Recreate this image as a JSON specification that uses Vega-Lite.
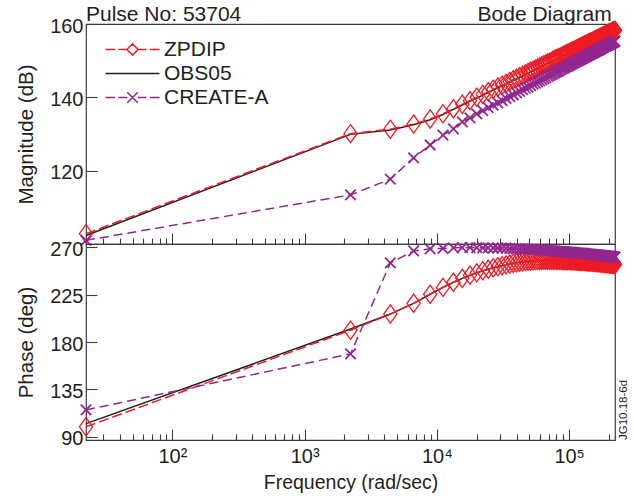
{
"$schema": "https://vega.github.io/schema/vega-lite/v6.json",
"padding": {"left": 16, "top": 3, "right": 0, "bottom": 0},
"title": {"text": "Bode Diagram", "anchor": "end", "frame": "bounds", "fontSize": 21, "fontWeight": "normal", "font": "Liberation Sans", "color": "#231f20", "offset": -22, "dx": -18},
"spacing": 0,
"bounds": "flush",
"datasets": {
"leg": [{"s": "ZPDIP"}, {"s": "OBS05"}, {"s": "CREATE-A"}],
"bode": [
{"f":22.2,"zm":102.8,"om":102.3,"cm":101.0,"zp":99.5,"op":102.5,"cp":115.5},
{"f":2222,"zm":130.1,"om":129.9,"cm":113.4,"zp":191.2,"op":192.3,"cp":168.7},
{"f":4444,"zm":131.3,"om":131.1,"cm":117.7,"zp":206.5,"op":206.5,"cp":255.0},
{"f":6667,"zm":132.7,"om":132.5,"cm":123.5,"zp":216.7,"op":216.7,"cp":266.4},
{"f":8889,"zm":134.1,"om":133.9,"cm":127.0,"zp":225.3,"op":225.3,"cp":268.4},
{"f":11111,"zm":135.5,"om":135.3,"cm":129.7,"zp":231.8,"op":231.8,"cp":268.8},
{"f":13333,"zm":136.9,"om":136.7,"cm":131.4,"zp":236.7,"op":236.7,"cp":269.4},
{"f":15556,"zm":138.1,"om":137.9,"cm":133.3,"zp":240.4,"op":240.4,"cp":269.5},
{"f":17778,"zm":139.1,"om":138.9,"cm":134.4,"zp":243.3,"op":243.3,"cp":269.5},
{"f":20000,"zm":140.0,"om":139.8,"cm":135.5,"zp":245.6,"op":245.6,"cp":269.5},
{"f":22222,"zm":140.8,"om":140.6,"cm":136.4,"zp":247.6,"op":247.6,"cp":269.4},
{"f":24444,"zm":141.5,"om":141.3,"cm":137.2,"zp":249.1,"op":249.1,"cp":269.3},
{"f":26667,"zm":142.2,"om":142.0,"cm":137.9,"zp":250.4,"op":250.4,"cp":269.2},
{"f":28889,"zm":142.8,"om":142.6,"cm":138.5,"zp":251.5,"op":251.5,"cp":269.2},
{"f":31111,"zm":143.3,"om":143.1,"cm":139.1,"zp":252.4,"op":252.4,"cp":269.1},
{"f":33333,"zm":143.8,"om":143.6,"cm":139.7,"zp":253.2,"op":253.2,"cp":269.0},
{"f":35556,"zm":144.3,"om":144.1,"cm":140.2,"zp":254.1,"op":254.1,"cp":268.8},
{"f":37778,"zm":144.8,"om":144.6,"cm":140.7,"zp":254.7,"op":254.7,"cp":268.7},
{"f":40000,"zm":145.2,"om":145.0,"cm":141.2,"zp":255.2,"op":255.2,"cp":268.6},
{"f":42222,"zm":145.6,"om":145.4,"cm":141.6,"zp":255.6,"op":255.6,"cp":268.4},
{"f":44444,"zm":146.0,"om":145.8,"cm":142.1,"zp":256.0,"op":256.0,"cp":268.3},
{"f":46667,"zm":146.4,"om":146.2,"cm":142.5,"zp":256.3,"op":256.3,"cp":268.2},
{"f":48889,"zm":146.8,"om":146.6,"cm":142.8,"zp":256.6,"op":256.6,"cp":268.1},
{"f":51111,"zm":147.1,"om":146.9,"cm":143.2,"zp":256.8,"op":256.8,"cp":268.0},
{"f":53333,"zm":147.4,"om":147.2,"cm":143.6,"zp":257.0,"op":257.0,"cp":267.8},
{"f":55556,"zm":147.7,"om":147.5,"cm":143.9,"zp":257.2,"op":257.2,"cp":267.7},
{"f":57778,"zm":148.0,"om":147.8,"cm":144.2,"zp":257.3,"op":257.3,"cp":267.5},
{"f":60000,"zm":148.3,"om":148.1,"cm":144.5,"zp":257.4,"op":257.4,"cp":267.4},
{"f":62222,"zm":148.6,"om":148.4,"cm":144.8,"zp":257.5,"op":257.5,"cp":267.2},
{"f":64444,"zm":148.9,"om":148.7,"cm":145.1,"zp":257.5,"op":257.5,"cp":267.2},
{"f":66667,"zm":149.1,"om":148.9,"cm":145.4,"zp":257.6,"op":257.6,"cp":267.1},
{"f":68889,"zm":149.4,"om":149.2,"cm":145.7,"zp":257.6,"op":257.6,"cp":266.9},
{"f":71111,"zm":149.6,"om":149.4,"cm":145.9,"zp":257.6,"op":257.6,"cp":266.8},
{"f":73333,"zm":149.8,"om":149.6,"cm":146.2,"zp":257.6,"op":257.6,"cp":266.7},
{"f":75556,"zm":150.1,"om":149.9,"cm":146.4,"zp":257.6,"op":257.6,"cp":266.5},
{"f":77778,"zm":150.3,"om":150.1,"cm":146.7,"zp":257.6,"op":257.6,"cp":266.4},
{"f":80000,"zm":150.5,"om":150.3,"cm":146.9,"zp":257.6,"op":257.6,"cp":266.3},
{"f":82222,"zm":150.7,"om":150.5,"cm":147.1,"zp":257.5,"op":257.5,"cp":266.1},
{"f":84444,"zm":150.9,"om":150.7,"cm":147.3,"zp":257.5,"op":257.5,"cp":266.1},
{"f":86667,"zm":151.1,"om":150.9,"cm":147.6,"zp":257.5,"op":257.5,"cp":266.0},
{"f":88889,"zm":151.3,"om":151.1,"cm":147.8,"zp":257.4,"op":257.4,"cp":265.8},
{"f":91111,"zm":151.5,"om":151.3,"cm":148.0,"zp":257.4,"op":257.4,"cp":265.7},
{"f":93333,"zm":151.7,"om":151.5,"cm":148.2,"zp":257.4,"op":257.4,"cp":265.6},
{"f":95556,"zm":151.9,"om":151.7,"cm":148.4,"zp":257.3,"op":257.3,"cp":265.5},
{"f":97778,"zm":152.0,"om":151.8,"cm":148.5,"zp":257.3,"op":257.3,"cp":265.3},
{"f":100000,"zm":152.2,"om":152.0,"cm":148.7,"zp":257.2,"op":257.2,"cp":265.2},
{"f":102222,"zm":152.4,"om":152.2,"cm":148.9,"zp":257.2,"op":257.2,"cp":265.2},
{"f":104444,"zm":152.5,"om":152.3,"cm":149.1,"zp":257.1,"op":257.1,"cp":265.1},
{"f":106667,"zm":152.7,"om":152.5,"cm":149.3,"zp":257.1,"op":257.1,"cp":265.0},
{"f":108889,"zm":152.8,"om":152.6,"cm":149.4,"zp":257.0,"op":257.0,"cp":264.9},
{"f":111111,"zm":153.0,"om":152.8,"cm":149.6,"zp":257.0,"op":257.0,"cp":264.7},
{"f":113333,"zm":153.1,"om":152.9,"cm":149.8,"zp":256.9,"op":256.9,"cp":264.6},
{"f":115556,"zm":153.3,"om":153.1,"cm":149.9,"zp":256.9,"op":256.9,"cp":264.5},
{"f":117778,"zm":153.4,"om":153.2,"cm":150.1,"zp":256.8,"op":256.8,"cp":264.4},
{"f":120000,"zm":153.6,"om":153.4,"cm":150.2,"zp":256.7,"op":256.7,"cp":264.4},
{"f":122222,"zm":153.7,"om":153.5,"cm":150.4,"zp":256.7,"op":256.7,"cp":264.3},
{"f":124444,"zm":153.9,"om":153.7,"cm":150.5,"zp":256.6,"op":256.6,"cp":264.2},
{"f":126667,"zm":154.0,"om":153.8,"cm":150.7,"zp":256.6,"op":256.6,"cp":264.1},
{"f":128889,"zm":154.1,"om":153.9,"cm":150.8,"zp":256.5,"op":256.5,"cp":264.0},
{"f":131111,"zm":154.3,"om":154.1,"cm":151.0,"zp":256.4,"op":256.4,"cp":263.8},
{"f":133333,"zm":154.4,"om":154.2,"cm":151.1,"zp":256.4,"op":256.4,"cp":263.7},
{"f":135556,"zm":154.5,"om":154.3,"cm":151.2,"zp":256.3,"op":256.3,"cp":263.6},
{"f":137778,"zm":154.6,"om":154.4,"cm":151.4,"zp":256.2,"op":256.2,"cp":263.5},
{"f":140000,"zm":154.8,"om":154.6,"cm":151.5,"zp":256.2,"op":256.2,"cp":263.5},
{"f":142222,"zm":154.9,"om":154.7,"cm":151.6,"zp":256.1,"op":256.1,"cp":263.4},
{"f":144444,"zm":155.0,"om":154.8,"cm":151.8,"zp":256.0,"op":256.0,"cp":263.3},
{"f":146667,"zm":155.1,"om":154.9,"cm":151.9,"zp":256.0,"op":256.0,"cp":263.2},
{"f":148889,"zm":155.2,"om":155.0,"cm":152.0,"zp":255.9,"op":255.9,"cp":263.1},
{"f":151111,"zm":155.3,"om":155.1,"cm":152.1,"zp":255.8,"op":255.8,"cp":263.0},
{"f":153333,"zm":155.4,"om":155.2,"cm":152.2,"zp":255.8,"op":255.8,"cp":262.9},
{"f":155556,"zm":155.6,"om":155.4,"cm":152.4,"zp":255.7,"op":255.7,"cp":262.8},
{"f":157778,"zm":155.7,"om":155.5,"cm":152.5,"zp":255.6,"op":255.6,"cp":262.8},
{"f":160000,"zm":155.8,"om":155.6,"cm":152.6,"zp":255.6,"op":255.6,"cp":262.7},
{"f":162222,"zm":155.9,"om":155.7,"cm":152.7,"zp":255.5,"op":255.5,"cp":262.6},
{"f":164444,"zm":156.0,"om":155.8,"cm":152.8,"zp":255.4,"op":255.4,"cp":262.5},
{"f":166667,"zm":156.1,"om":155.9,"cm":152.9,"zp":255.4,"op":255.4,"cp":262.5},
{"f":168889,"zm":156.2,"om":156.0,"cm":153.0,"zp":255.3,"op":255.3,"cp":262.4},
{"f":171111,"zm":156.3,"om":156.1,"cm":153.1,"zp":255.2,"op":255.2,"cp":262.3},
{"f":173333,"zm":156.4,"om":156.2,"cm":153.3,"zp":255.1,"op":255.1,"cp":262.2},
{"f":175556,"zm":156.5,"om":156.3,"cm":153.4,"zp":255.1,"op":255.1,"cp":262.2},
{"f":177778,"zm":156.6,"om":156.4,"cm":153.5,"zp":255.0,"op":255.0,"cp":262.1},
{"f":180000,"zm":156.7,"om":156.5,"cm":153.6,"zp":254.9,"op":254.9,"cp":262.0},
{"f":182222,"zm":156.8,"om":156.6,"cm":153.7,"zp":254.9,"op":254.9,"cp":261.9},
{"f":184444,"zm":156.9,"om":156.7,"cm":153.8,"zp":254.8,"op":254.8,"cp":261.8},
{"f":186667,"zm":156.9,"om":156.7,"cm":153.9,"zp":254.7,"op":254.7,"cp":261.7},
{"f":188889,"zm":157.0,"om":156.8,"cm":154.0,"zp":254.7,"op":254.7,"cp":261.7},
{"f":191111,"zm":157.1,"om":156.9,"cm":154.1,"zp":254.6,"op":254.6,"cp":261.6},
{"f":193333,"zm":157.2,"om":157.0,"cm":154.2,"zp":254.5,"op":254.5,"cp":261.5},
{"f":195556,"zm":157.3,"om":157.1,"cm":154.2,"zp":254.4,"op":254.4,"cp":261.5},
{"f":197778,"zm":157.4,"om":157.2,"cm":154.3,"zp":254.4,"op":254.4,"cp":261.4},
{"f":200000,"zm":157.5,"om":157.3,"cm":154.4,"zp":254.3,"op":254.3,"cp":261.3},
{"f":202222,"zm":157.6,"om":157.4,"cm":154.5,"zp":254.2,"op":254.2,"cp":261.2},
{"f":204444,"zm":157.6,"om":157.4,"cm":154.6,"zp":254.2,"op":254.2,"cp":261.2},
{"f":206667,"zm":157.7,"om":157.5,"cm":154.7,"zp":254.1,"op":254.1,"cp":261.1},
{"f":208889,"zm":157.8,"om":157.6,"cm":154.8,"zp":254.0,"op":254.0,"cp":261.0},
{"f":211111,"zm":157.9,"om":157.7,"cm":154.9,"zp":254.0,"op":254.0,"cp":260.9},
{"f":213333,"zm":158.0,"om":157.8,"cm":155.0,"zp":253.9,"op":253.9,"cp":260.9},
{"f":215556,"zm":158.0,"om":157.8,"cm":155.0,"zp":253.8,"op":253.8,"cp":260.8},
{"f":217778,"zm":158.1,"om":157.9,"cm":155.1,"zp":253.7,"op":253.7,"cp":260.8},
{"f":220000,"zm":158.2,"om":158.0,"cm":155.2,"zp":253.7,"op":253.7,"cp":260.7},
{"f":222222,"zm":158.3,"om":158.1,"cm":155.3,"zp":253.6,"op":253.6,"cp":260.6}
]
},
"vconcat": [
{
"width": 529,
"height": 220,
"title": {"text": "Pulse No: 53704", "anchor": "start", "frame": "group", "offset": -9, "dx": 0},
"data": {"name": "bode"},
"layer": [
{"mark": {"type": "line", "color": "#231f20", "strokeWidth": 1.5},
 "encoding": {
  "x": {"field": "f", "type": "quantitative", "title": null,
        "scale": {"type": "log", "domain": [22.2, 222222], "nice": false},
        "axis": {"orient": "bottom", "labels": false, "title": null,
                 "values": [30,40,50,60,70,80,90,100,200,300,400,500,600,700,800,900,1000,2000,3000,4000,5000,6000,7000,8000,9000,10000,20000,30000,40000,50000,60000,70000,80000,90000,100000,200000],
                 "tickSize": {"condition": {"test": "indexof([100,1000,10000,100000], datum.value) >= 0", "value": -11}, "value": -6}}},
  "y": {"field": "om", "type": "quantitative", "title": "Magnitude (dB)",
        "scale": {"domain": [100, 160], "nice": false, "zero": false},
        "axis": {"values": [120, 140, 160], "tickSize": -11, "labelPadding": 14, "labelOffset": 2, "titlePadding": 13, "labelOverlap": false}}
 }},
{"mark": {"type": "line", "color": "#ed1c24", "strokeWidth": 1.5, "strokeDash": [10, 4]},
 "encoding": {"x": {"field": "f", "type": "quantitative", "title": null}, "y": {"field": "zm", "type": "quantitative", "title": "Magnitude (dB)"}}},
{"mark": {"type": "point", "shape": "M0,-1.38L1,0L0,1.38L-1,0Z", "size": 174, "color": "#ed1c24", "strokeWidth": 1.3, "filled": false, "opacity": 1},
 "encoding": {"x": {"field": "f", "type": "quantitative", "title": null}, "y": {"field": "zm", "type": "quantitative", "title": "Magnitude (dB)"}}},
{"mark": {"type": "line", "color": "#92278f", "strokeWidth": 1.5, "strokeDash": [9, 5]},
 "encoding": {"x": {"field": "f", "type": "quantitative", "title": null}, "y": {"field": "cm", "type": "quantitative", "title": "Magnitude (dB)"}}},
{"mark": {"type": "point", "shape": "M-1,-1L1,1M-1,1L1,-1", "size": 110, "color": "#92278f", "strokeWidth": 1.8, "filled": false, "opacity": 1},
 "encoding": {"x": {"field": "f", "type": "quantitative", "title": null}, "y": {"field": "cm", "type": "quantitative", "title": "Magnitude (dB)"}}},
{"data": {"name": "leg"},
 "mark": {"type": "point", "size": 0, "filled": false, "strokeWidth": 1.5},
 "encoding": {
  "color": {"field": "s", "type": "nominal", "title": null,
            "scale": {"domain": ["ZPDIP", "OBS05", "CREATE-A"], "range": ["#ed1c24", "#231f20", "#92278f"]},
            "legend": {"title": null, "orient": "none", "legendX": 36, "legendY": 15, "symbolSize": 196, "symbolStrokeWidth": 1.5, "symbolOpacity": 1, "labelOffset": 21, "labelFontSize": 21, "labelColor": "#231f20", "labelFont": "Liberation Sans", "rowPadding": 2, "padding": 0}},
  "shape": {"field": "s", "type": "nominal", "title": null,
            "scale": {"domain": ["ZPDIP", "OBS05", "CREATE-A"], "range": ["M-3.86,0H-2.5M-2,0H-0.8M0.8,0H2M2.5,0H3.86M-0.8,0L0,-0.8L0.8,0L0,0.8Z", "M-3.86,0H3.86", "M-3.86,0H-2.5M-2,0H-0.75M0.75,0H2M2.5,0H3.86M-0.75,-0.75L0.75,0.75M-0.75,0.75L0.75,-0.75"]},
            "legend": {"title": null, "orient": "none", "legendX": 36, "legendY": 15, "symbolSize": 196, "symbolStrokeWidth": 1.5, "symbolOpacity": 1, "labelOffset": 21, "labelFontSize": 21, "labelColor": "#231f20", "labelFont": "Liberation Sans", "rowPadding": 2, "padding": 0}}
 }}
]
},
{
"width": 529,
"height": 196,
"title": {"text": "JG10.18-6d", "orient": "right", "anchor": "end", "frame": "group", "align": "left", "baseline": "bottom", "angle": 270, "fontSize": 11.5, "offset": -7},
"data": {"name": "bode"},
"layer": [
{"mark": {"type": "line", "color": "#231f20", "strokeWidth": 1.5},
 "encoding": {
  "x": {"field": "f", "type": "quantitative", "title": "Frequency (rad/sec)",
        "scale": {"type": "log", "domain": [22.2, 222222], "nice": false},
        "axis": {"orient": "bottom", "title": "Frequency (rad/sec)", "titleFontSize": 19.5, "titlePadding": 2,
                 "values": [30,40,50,60,70,80,90,100,200,300,400,500,600,700,800,900,1000,2000,3000,4000,5000,6000,7000,8000,9000,10000,20000,30000,40000,50000,60000,70000,80000,90000,100000,200000],
                 "labelExpr": "datum.value == 100 ? '10²' : datum.value == 1000 ? '10³' : datum.value == 10000 ? '10⁴' : datum.value == 100000 ? '10⁵' : ''",
                 "labelPadding": 17, "labelOverlap": false, "labelFlush": false,
                 "tickSize": {"condition": {"test": "indexof([100,1000,10000,100000], datum.value) >= 0", "value": -11}, "value": -6}}},
  "y": {"field": "op", "type": "quantitative", "title": "Phase (deg)",
        "scale": {"domain": [87, 273], "nice": false, "zero": false},
        "axis": {"values": [90, 135, 180, 225, 270], "tickSize": -11, "labelPadding": 14, "labelOffset": 2, "titlePadding": 13, "labelOverlap": false}}
 }},
{"mark": {"type": "line", "color": "#ed1c24", "strokeWidth": 1.5, "strokeDash": [10, 4]},
 "encoding": {"x": {"field": "f", "type": "quantitative", "title": "Frequency (rad/sec)"}, "y": {"field": "zp", "type": "quantitative", "title": "Phase (deg)"}}},
{"mark": {"type": "point", "shape": "M0,-1.38L1,0L0,1.38L-1,0Z", "size": 174, "color": "#ed1c24", "strokeWidth": 1.3, "filled": false, "opacity": 1},
 "encoding": {"x": {"field": "f", "type": "quantitative", "title": "Frequency (rad/sec)"}, "y": {"field": "zp", "type": "quantitative", "title": "Phase (deg)"}}},
{"mark": {"type": "line", "color": "#92278f", "strokeWidth": 1.5, "strokeDash": [9, 5]},
 "encoding": {"x": {"field": "f", "type": "quantitative", "title": "Frequency (rad/sec)"}, "y": {"field": "cp", "type": "quantitative", "title": "Phase (deg)"}}},
{"mark": {"type": "point", "shape": "M-1,-1L1,1M-1,1L1,-1", "size": 110, "color": "#92278f", "strokeWidth": 1.8, "filled": false, "opacity": 1},
 "encoding": {"x": {"field": "f", "type": "quantitative", "title": "Frequency (rad/sec)"}, "y": {"field": "cp", "type": "quantitative", "title": "Phase (deg)"}}}
]
}
],
"config": {
 "font": "Liberation Sans",
 "view": {"stroke": "#3c3c3c", "strokeWidth": 1.2},
 "axis": {"grid": false, "domain": false, "labelFont": "Liberation Sans", "titleFont": "Liberation Sans", "labelFontSize": 20, "titleFontSize": 20.5, "labelColor": "#231f20", "titleColor": "#231f20", "titleFontWeight": "normal", "tickColor": "#3c3c3c", "tickWidth": 1.1},
 "title": {"fontSize": 21, "fontWeight": "normal", "color": "#231f20", "font": "Liberation Sans"}
}
}
